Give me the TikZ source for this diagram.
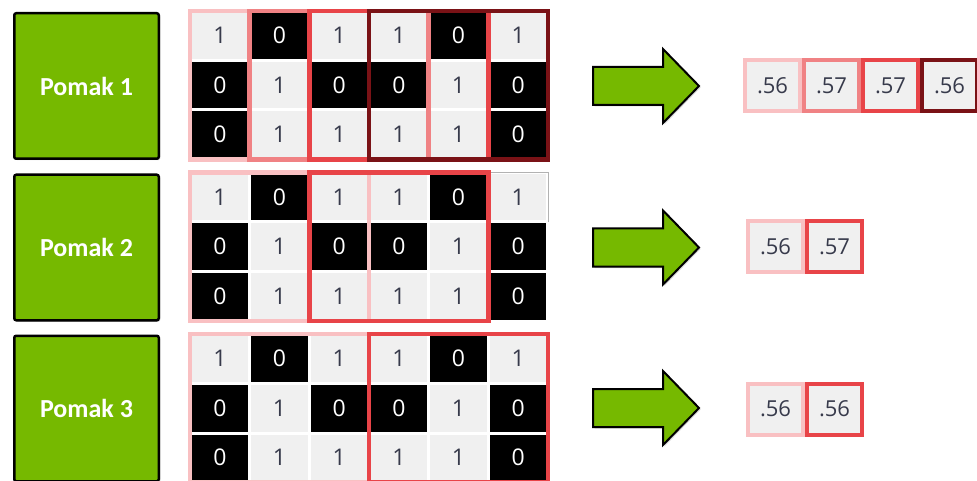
\documentclass[tikz,border=0pt]{standalone}
\usepackage{fontspec}
\setmainfont{Open Sans}
\newfontfamily\pomakfont{Carlito}
\usetikzlibrary{positioning, shadows}

\definecolor{pomakgreen}{RGB}{118,185,0}
\definecolor{cellgray}{RGB}{240,240,240}
\definecolor{numgray}{RGB}{55,58,75}
\definecolor{winA}{RGB}{249,192,194}
\definecolor{winB}{RGB}{240,130,132}
\definecolor{winC}{RGB}{232,68,72}
\definecolor{winD}{RGB}{122,18,22}

\begin{document}
\begin{tikzpicture}[x=1pt, y=-1pt,
    pomak/.style={draw=black, line width=2.5pt, fill=pomakgreen, rounded corners=2pt,
      minimum width=144.5pt, minimum height=145.5pt, text=white,
      font=\pomakfont\bfseries\fontsize{26}{26}\selectfont,
      drop shadow={opacity=0.3, shadow xshift=1.5pt, shadow yshift=-1.5pt}},
    cell/.style={inner sep=0pt, minimum width=56.5pt, minimum height=46.5pt,
      font=\fontsize{23}{23}\selectfont},
    cell0/.style={cell, fill=black, text=white},
    cell1/.style={cell, fill=cellgray, text=numgray},
    window/.style={line width=4.5pt},
    bigarrow/.style={fill=pomakgreen, draw=black, line width=2pt, line join=miter,
      drop shadow={opacity=0.3, shadow xshift=1.5pt, shadow yshift=-1.5pt}},
    result/.style={fill=cellgray, line width=4pt, inner sep=0pt, text=numgray,
      minimum width=55pt, minimum height=51pt, font=\fontsize{22}{22}\selectfont}]
  \path[use as bounding box, fill=white] (0,0) rectangle (977,481);

  % Pomak boxes
  \node[pomak] (pomak1) at (86.5, 86) {Pomak 1};
  \node[pomak] (pomak2) at (86.5, 247.5) {Pomak 2};
  \node[pomak] (pomak3) at (86.5, 408.5) {Pomak 3};

  % input grids
  \foreach \g in {1,2,3} {
    \draw[gray!60, line width=1pt] (190, {11+161.5*(\g-1)}) -- (548, {11+161.5*(\g-1)}) -- (548, {11+161.5*(\g-1)+49.5});
    \foreach \row/\vals in {1/{1,0,1,1,0,1}, 2/{0,1,0,0,1,0}, 3/{0,1,1,1,1,0}} {
      \foreach \v [count=\col] in \vals {
        \node[cell\v] (cell-\g-\row-\col) at ({190+59.67*(\col-0.5)}, {11+161.5*(\g-1)+49.5*(\row-0.5)}) {\v};
      }
    }
  }

  % sliding windows
  \foreach \g/\a/\b/\c in {1/1/3/winA, 1/2/4/winB, 1/3/5/winC, 1/4/6/winD,
                           2/1/3/winA, 2/3/5/winC, 3/1/3/winA, 3/4/6/winC}
    \draw[window, draw=\c] ({190+59.67*(\a-1)}, {11+161.5*(\g-1)}) rectangle ({190+59.67*\b}, {11+161.5*(\g-1)+148.5});

  % arrows
  \foreach \n/\cy in {1/86, 2/247.5, 3/408} {
    \coordinate (arr\n) at (593, \cy);
    \draw[bigarrow] (arr\n) ++(0,-19) -- ++(70,0) -- ++(0,-18) -- ++(36,37)
      -- ++(-36,37) -- ++(0,-18) -- ++(-70,0) -- cycle;
  }

  % results
  \node[result, draw=winA] (res1a) at (772.5, 85.5) {.56};
  \node[result, draw=winB, right=0pt of res1a] (res1b) {.57};
  \node[result, draw=winC, right=0pt of res1b] (res1c) {.57};
  \node[result, draw=winD, right=0pt of res1c] (res1d) {.56};

  \node[result, draw=winA] (res2a) at (775.5, 246.5) {.56};
  \node[result, draw=winC, right=0pt of res2a] (res2b) {.57};

  \node[result, draw=winA] (res3a) at (775.5, 409) {.56};
  \node[result, draw=winC, right=0pt of res3a] (res3b) {.56};
\end{tikzpicture}
\end{document}
